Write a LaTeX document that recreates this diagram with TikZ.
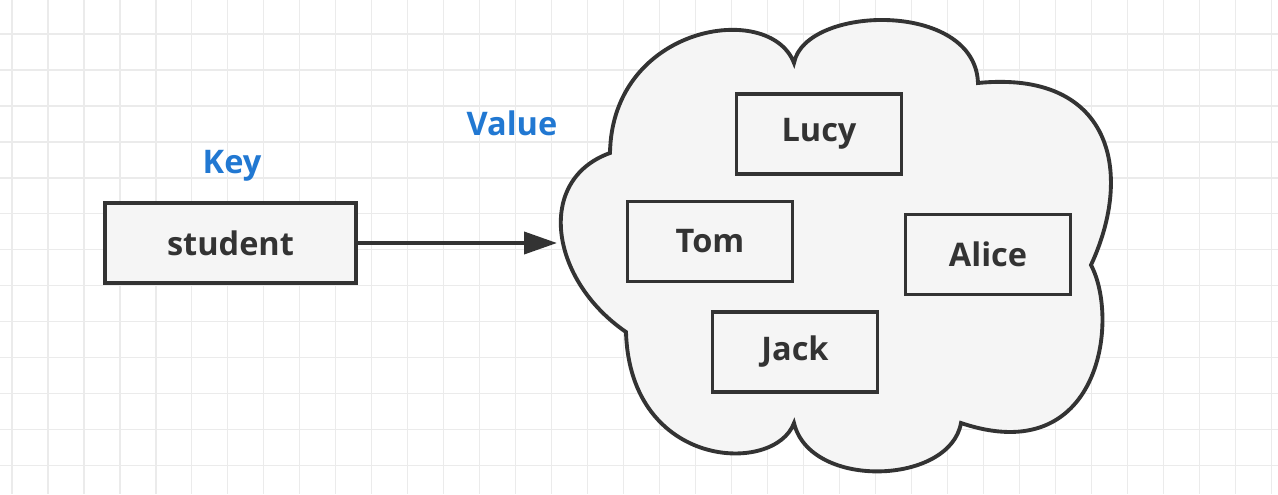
\documentclass[tikz,border=0pt]{standalone}
\usepackage{fontspec}
\setmainfont{Open Sans}
\usetikzlibrary{arrows.meta}
\definecolor{boxline}{HTML}{333333}
\definecolor{boxfill}{HTML}{F5F5F5}
\definecolor{keyblue}{RGB}{33,120,210}
\definecolor{gridgray}{HTML}{EBEBEB}

\begin{document}
\begin{tikzpicture}[x=0.02cm, y=-0.02cm,
  every node/.style={font=\fontsize{18.5}{22}\selectfont\bfseries},
  item/.style={draw=boxline, fill=boxfill, line width=2.2pt, text=boxline, minimum width=3.3cm, minimum height=1.6cm, inner sep=0pt},
  tag/.style={text=keyblue, anchor=base}]
\useasboundingbox (0,0) rectangle (1278,494);
\fill[white] (0,0) rectangle (1278,494);
\draw[gridgray, line width=0.6pt, shift={(12,34)}, step=0.72cm] (-12,460) grid (1266,-34);

% cloud
\draw[boxline, fill=boxfill, line width=2.2pt]
  (610,153) .. controls (612,25) and (770,0) .. (794,63)
  .. controls (805,5) and (975,0) .. (978,83)
  .. controls (1110,70) and (1135,170) .. (1091,265)
  .. controls (1120,320) and (1100,470) .. (961,423)
  .. controls (950,485) and (810,490) .. (794,423)
  .. controls (775,475) and (630,470) .. (626,332)
  .. controls (550,280) and (535,180) .. cycle;

\node[item, minimum width=5.02cm] (student) at (230.5,243) {student};
\node[item] (lucy) at (819,134) {Lucy};
\node[item] (tom) at (710,241.5) {Tom};
\node[item] (alice) at (988,254.5) {Alice};
\node[item] (jack) at (795,352) {Jack};

\node[tag] (key) at (232,173) {Key};
\node[tag] (value) at (512,135) {Value};

\coordinate (cloudin) at (557,243);
\draw[boxline, line width=2.2pt, -{Triangle[length=0.66cm, width=0.44cm]}] (student) -- (cloudin);
\end{tikzpicture}
\end{document}
